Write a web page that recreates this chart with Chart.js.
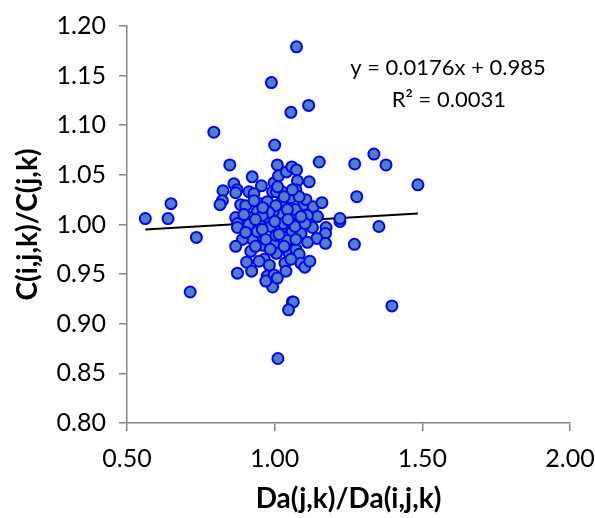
<!DOCTYPE html>
<html>
<head>
<meta charset="utf-8">
<script src="https://cdn.jsdelivr.net/npm/chart.js@4"></script>
<style>
  html, body { margin: 0; padding: 0; background: #fff; }
  #wrap { width: 595px; height: 518px; }
</style>
</head>
<body>
<div id="wrap"><canvas id="myChart" width="595" height="518"></canvas></div>
<script>
// Data
const xValues = [
    1.074, 0.989, 1.115, 1.055, 0.794, 1.000, 0.848, 1.009, 1.151, 1.271,
    1.336, 1.377, 1.485, 1.278, 0.649, 0.562, 0.639, 0.735, 1.221, 1.221,
    1.353, 1.270, 0.714, 1.397, 1.060, 1.063, 1.047, 1.011, 0.993,
    0.924, 0.862, 0.873, 0.825, 0.955, 0.823, 0.815, 0.868, 0.913, 0.930,
    0.885, 0.902, 0.952, 0.975, 0.998, 1.013, 1.040, 1.058, 1.074, 1.077,
    1.117, 1.072, 1.025, 0.993, 1.024, 1.055, 1.098, 1.106, 1.131, 1.160,
    1.145, 1.111, 1.070, 1.025, 0.995, 0.975, 0.941, 0.915, 0.868, 0.874,
    0.874, 0.913, 0.947, 0.987, 1.021, 1.060, 1.089, 1.128, 1.174, 1.172,
    1.143, 1.111, 1.172, 1.043, 0.998, 0.947, 0.925, 0.891, 0.868, 0.919,
    0.961, 1.006, 1.049, 1.072, 1.083, 1.089, 1.102, 1.119, 1.035, 1.038,
    0.965, 0.982, 0.947, 0.905, 0.922, 0.874, 0.975, 0.998, 1.009, 0.970,
    0.941, 0.958, 0.970, 1.030, 1.052, 1.069, 1.103, 1.004, 1.043, 1.089,
    0.981, 0.958, 0.935, 0.896, 0.902, 1.004, 1.072, 1.032, 1.006, 1.032,
    1.083, 1.060, 0.930,
    1.000, 1.015, 0.960, 1.045, 0.985, 1.055, 0.935, 1.010
];
const yValues = [
    1.179, 1.143, 1.120, 1.113, 1.093, 1.080, 1.060, 1.060, 1.063, 1.061,
    1.071, 1.060, 1.040, 1.028, 1.021, 1.006, 1.006, 0.987, 1.003, 1.006,
    0.998, 0.980, 0.932, 0.918, 0.922, 0.922, 0.914, 0.865, 0.937,
    1.048, 1.041, 1.035, 1.034, 1.039, 1.024, 1.020, 1.032, 1.033, 1.031,
    1.020, 1.019, 1.021, 1.023, 1.042, 1.049, 1.053, 1.058, 1.055, 1.044,
    1.043, 1.035, 1.033, 1.033, 1.023, 1.027, 1.020, 1.025, 1.018, 1.022,
    1.008, 1.009, 1.015, 1.010, 1.013, 1.007, 1.013, 1.007, 1.007, 1.001,
    0.997, 1.000, 1.001, 0.998, 0.995, 0.993, 0.991, 0.997, 0.997, 0.991,
    0.986, 0.982, 0.981, 0.984, 0.980, 0.987, 0.985, 0.985, 0.978, 0.973,
    0.979, 0.971, 0.971, 0.975, 0.970, 0.961, 0.957, 0.963, 0.961, 0.953,
    0.965, 0.959, 0.963, 0.962, 0.953, 0.951, 0.948, 0.949, 0.946, 0.943,
    0.993, 0.995, 0.985, 1.001, 1.003, 0.998, 1.001, 1.019, 1.015, 1.008,
    1.012, 1.009, 1.005, 1.010, 0.992, 0.989, 0.985, 0.978, 1.033, 1.028,
    1.028, 1.035, 1.024,
    1.003, 0.990, 1.017, 1.005, 0.975, 0.965, 0.978, 1.038
];
const trendSlope = 0.0176;
const trendIntercept = 0.985;
const trendLabels = ['y = 0.0176x + 0.985', 'R\u00b2 = 0.0031'];
const xTickValues = [0.5, 1.0, 1.5, 2.0];
const yTickValues = [0.80, 0.85, 0.90, 0.95, 1.00, 1.05, 1.10, 1.15, 1.20];

const fontFamily = 'Lato, "Open Sans", sans-serif';
const axisColor = '#868686';

const points = xValues.map((x, i) => ({ x: x, y: yValues[i] }));
const xMin = Math.min(...xValues);
const xMax = Math.max(...xValues);
const trendPoints = [xMin, xMax].map(x => ({ x: x, y: trendSlope * x + trendIntercept }));

// trendline equation text, placed in data coordinates
const equationPlugin = {
    id: 'equation',
    afterDatasetsDraw(chart) {
        const ctx = chart.ctx;
        const xs = chart.scales.x, ys = chart.scales.y;
        ctx.save();
        ctx.fillStyle = '#000';
        ctx.font = '22px ' + fontFamily;
        ctx.textAlign = 'center';
        ctx.textBaseline = 'middle';
        ctx.fillText(trendLabels[0], xs.getPixelForValue(1.587), ys.getPixelForValue(1.1577));
        ctx.fillText(trendLabels[1], xs.getPixelForValue(1.590), ys.getPixelForValue(1.1254));
        ctx.restore();
    }
};

const ctx = document.getElementById('myChart').getContext('2d');
new Chart(ctx, {
    type: 'scatter',
    data: {
        datasets: [{
            label: 'data',
            data: points,
            backgroundColor: '#4f81bd',
            borderColor: '#0000ff',
            borderWidth: 2,
            pointRadius: 5.5,
            pointHoverRadius: 5.5
        }, {
            label: 'trend',
            type: 'line',
            data: trendPoints,
            borderColor: '#000',
            borderWidth: 2,
            pointRadius: 0,
            fill: false
        }]
    },
    options: {
        responsive: false,
        animation: false,
        layout: { padding: { top: 26, right: 0, left: 8, bottom: 0 } },
        plugins: {
            legend: { display: false },
            tooltip: { enabled: false }
        },
        scales: {
            x: {
                type: 'linear',
                min: 0.5,
                max: 2.0,
                afterBuildTicks: axis => { axis.ticks = xTickValues.map(v => ({ value: v })); },
                afterFit: axis => {
                    axis.height = 95;
                    axis.paddingLeft = 0;
                    axis.paddingRight = 25;
                },
                border: { color: axisColor, width: 1.5 },
                grid: { drawOnChartArea: false, drawTicks: true, tickLength: 8, color: axisColor, lineWidth: 1.5 },
                ticks: {
                    color: '#000',
                    padding: 13,
                    font: { family: fontFamily, size: 25 },
                    callback: v => v.toFixed(2)
                },
                title: {
                    display: true,
                    text: 'Da(j,k)/Da(i,j,k)',
                    color: '#000',
                    font: { family: fontFamily, size: 28, weight: 'bold' },
                    padding: { top: 4, bottom: 2 }
                }
            },
            y: {
                type: 'linear',
                min: 0.8,
                max: 1.2,
                afterBuildTicks: axis => { axis.ticks = yTickValues.map(v => ({ value: v })); },
                afterFit: axis => {
                    axis.width = 119;
                    axis.paddingTop = 0;
                    axis.paddingBottom = 0;
                },
                border: { color: axisColor, width: 1.5 },
                grid: { drawOnChartArea: false, drawTicks: true, tickLength: 8, color: axisColor, lineWidth: 1.5 },
                ticks: {
                    color: '#000',
                    padding: 13,
                    font: { family: fontFamily, size: 25 },
                    callback: v => v.toFixed(2)
                },
                title: {
                    display: true,
                    text: 'C(i,j,k)/C(j,k)',
                    color: '#000',
                    font: { family: fontFamily, size: 28, weight: 'bold' },
                    padding: { top: 3, bottom: 4 }
                }
            }
        }
    },
    plugins: [equationPlugin]
});
</script>
</body>
</html>
